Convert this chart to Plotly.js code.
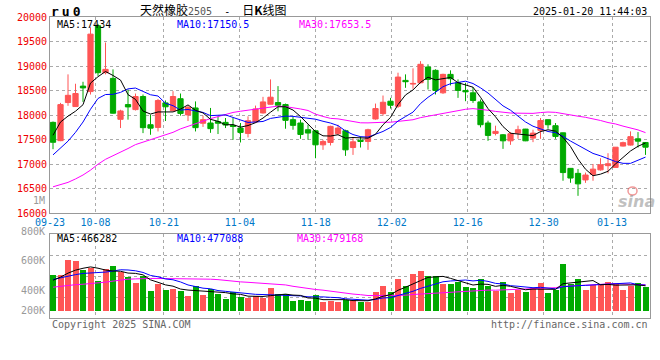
<!DOCTYPE html>
<html><head><meta charset="utf-8">
<script src="https://cdn.plot.ly/plotly-3.0.1.min.js"></script>
<style>html,body{margin:0;padding:0;background:#fff}#chart{width:660px;height:360px}</style>
</head><body><div id="chart"></div>
<script>
// ---- data (ru0, daily K, 2024-09-23 .. 2025-01-20) ----
const openP = [17853,17480,18257,18175,18592,18480,19822,18865,18749,17915,
  18216,18113,18380,17805,17750,18250,18090,18335,18005,18147,
  17835,17840,17870,17853,17792,17737,17628,17860,18045,18222,
  18257,18216,17908,17840,17703,17682,17395,17443,17621,17682,
  17340,17491,17464,17922,18031,18284,18182,18708,18633,18660,
  18981,18913,18455,18831,18660,18503,18455,18270,17840,17628,
  17600,17477,17634,17716,17532,17690,17908,17785,17640,16916,
  16814,16680,16794,16885,16971,16935,17370,17390,17518,17443];
const highP = [17870,18250,18831,18640,18680,19790,19860,19480,18933,18110,
  18523,18440,18420,18010,18330,18300,18489,18441,18190,18280,
  17990,18147,17976,17942,17942,17840,17976,18195,18373,18728,
  18592,18236,17976,17908,17805,17703,17498,17785,17805,17703,
  17552,17566,17723,18236,18400,18352,18865,18831,18954,19100,
  19036,18934,18844,18913,18728,18660,18571,18318,17887,17785,
  17614,17655,17785,17720,17703,17942,17910,17839,17645,16920,
  16903,16830,17005,17122,17224,17347,17460,17669,17655,17445];
const lowP = [17307,17470,18190,18168,18270,18420,18800,18831,18031,17737,
  17908,18095,17634,17600,17668,17880,18080,17990,17880,17668,
  17760,17640,17615,17737,17498,17443,17546,17840,18031,18216,
  18079,17723,17703,17518,17498,17122,17293,17382,17600,17170,
  17190,17340,17293,17908,17990,18134,18147,18557,18537,18646,
  18523,18421,18434,18605,18352,18284,18250,17750,17477,17587,
  17313,17395,17518,17470,17450,17518,17723,17518,16663,16622,
  16356,16620,16663,16869,16814,16930,17361,17381,17340,17190];
const closeP = [17447,18215,18404,18441,18555,19651,18865,18933,18040,18085,
  18168,18380,17745,17735,18298,18170,18380,18035,18161,17745,
  17908,17725,17835,17799,17771,17648,17887,18127,18270,18366,
  18202,17894,17792,17607,17635,17395,17464,17771,17737,17293,
  17457,17464,17703,18134,18263,18202,18776,18681,18646,19036,
  18728,18503,18831,18742,18503,18475,18298,17805,17587,17669,
  17477,17621,17703,17477,17634,17890,17805,17566,16830,16718,
  16600,16780,16900,16990,17010,17347,17440,17562,17470,17347];
const volume = [544000,544000,646000,636000,574000,590000,501000,583000,603000,566000,
  529000,490000,534000,434000,483000,442000,447000,436000,400000,470000,
  409000,447000,415000,381000,427000,393000,386000,400000,386000,454000,
  415000,415000,368000,375000,368000,409000,364000,371000,364000,377000,
  377000,364000,364000,427000,468000,427000,514000,468000,549000,569000,
  535000,535000,483000,481000,499000,461000,454000,515000,472000,432000,
  495000,420000,445000,427000,454000,488000,420000,444000,617000,481000,
  515000,442000,474000,474000,495000,489000,442000,470000,488000,463000];
// moving-average values at the start of the window (they depend on earlier days)
const ma5Head  = [17590,17860,17980,18080];
const ma10Head = [17190,17330,17470,17650,17860,18120,18340,18420,18425];
const ma30Head = [16540,16580,16630,16700,16780,16880,17000,17100,17170,17240,17320,17400,17450,17490,
  17550,17590,17650,17720,17775,17830,17885,17930,17970,18020,18055,18080,18100,18120,18145];
const vma5Head  = [508000,529000,556000,576000];
const vma10Head = [513000,525000,536000,546000,554000,556000,558000,563000,570000];
const vma30Head = [461000,468000,473000,478000,481000,485000,488000,495000,502000,510000,515000,517000,520000,
  520000,520000,520000,520000,520000,520000,520000,519000,515000,512000,506000,500000,497000,494000,491000,488000];
const tickIdx = [0,6,15,25,35,45,55,65,74];
const tickText = ['09-23','10-08','10-21','11-04','11-18','12-02','12-16','12-30','01-13'];
const priceTicks = [16000,16500,17000,17500,18000,18500,19000,19500,20000];
const volLabels = ['800K','600K','400K','200K'];
const legendPrice = ['MA5:17434','MA10:17150.5','MA30:17653.5'];
const legendVol = ['MA5:466282','MA10:477088','MA30:479168'];

// ---- helpers ----
function movAvg(arr, n, head){
  return arr.map((_, i) => {
    if (i < n - 1) return head[i];
    let s = 0; for (let j = i - n + 1; j <= i; j++) s += arr[j];
    return s / n;
  });
}
const N = closeP.length;
const idx = closeP.map((_, i) => i);
const RED = '#ff5555', GREEN = '#00aa00';
const up = closeP.map((c, i) => c >= openP[i]);
const VOL_BASE = 300000;
const volRange = [252900, 818300];
const L = 50, R = 650, T = 17, B = 318;
const fx = px => (px - L) / (R - L);
const fy = py => (B - py) / (B - T);
const MONO = 'DejaVu Sans Mono';
function ann(text, px, py, xa, color, size, extra){
  return Object.assign({text: text, x: fx(px), y: fy(py), xref: 'paper', yref: 'paper',
    xanchor: xa, yanchor: 'middle', showarrow: false,
    font: {family: MONO, size: size || 10, color: color}}, extra || {});
}

const traces = [
  {type: 'candlestick', x: idx, open: openP, high: highP, low: lowP, close: closeP,
   increasing: {line: {color: RED, width: 1}, fillcolor: RED},
   decreasing: {line: {color: GREEN, width: 1}, fillcolor: GREEN},
   whiskerwidth: 0, hoverinfo: 'none', xaxis: 'x', yaxis: 'y'},
  {type: 'scatter', mode: 'lines', x: idx, y: movAvg(closeP, 30, ma30Head), line: {color: '#ff00ff', width: 1}, xaxis: 'x', yaxis: 'y', hoverinfo: 'none'},
  {type: 'scatter', mode: 'lines', x: idx, y: movAvg(closeP, 10, ma10Head), line: {color: '#0000ff', width: 1}, xaxis: 'x', yaxis: 'y', hoverinfo: 'none'},
  {type: 'scatter', mode: 'lines', x: idx, y: movAvg(closeP, 5, ma5Head), line: {color: '#000000', width: 1}, xaxis: 'x', yaxis: 'y', hoverinfo: 'none'},
  {type: 'bar', x: idx, y: volume.map(v => v - VOL_BASE), base: VOL_BASE, width: 0.8,
   marker: {color: up.map(u => u ? RED : GREEN), line: {width: 0}}, xaxis: 'x2', yaxis: 'y2', hoverinfo: 'none'},
  {type: 'scatter', mode: 'lines', x: idx, y: movAvg(volume, 30, vma30Head), line: {color: '#ff00ff', width: 1}, xaxis: 'x2', yaxis: 'y2', hoverinfo: 'none'},
  {type: 'scatter', mode: 'lines', x: idx, y: movAvg(volume, 10, vma10Head), line: {color: '#0000ff', width: 1}, xaxis: 'x2', yaxis: 'y2', hoverinfo: 'none'},
  {type: 'scatter', mode: 'lines', x: idx, y: movAvg(volume, 5, vma5Head), line: {color: '#000000', width: 1}, xaxis: 'x2', yaxis: 'y2', hoverinfo: 'none'}
];

const tickVals = tickIdx.map(i => -0.4 + i * N / (N - 1));
const gridCommon = {showgrid: true, gridcolor: '#aaaaaa', griddash: 'dot', gridwidth: 1,
  showline: true, linecolor: '#999999', linewidth: 1, mirror: true, zeroline: false, ticks: '', fixedrange: true};
const volQuarter = [0.25, 0.5, 0.75].map(f => volRange[0] + f * (volRange[1] - volRange[0]));

const annotations = [
  ann('<span style="letter-spacing:3px">ru0</span>', 49, 11, 'left', '#000', 13, {font: {family: MONO, size: 13, color: '#000', weight: 'bold'}}),
  ann('天然橡胶<span style="font-family:DejaVu Sans Mono;font-size:10px;color:#555">2505</span><span style="font-family:DejaVu Sans Mono;font-size:10px">  -  </span>日<b>K</b>线图', 213, 10, 'center', '#000', 12,
      {font: {family: 'Noto Sans CJK SC', size: 12, color: '#000'}}),
  ann('2025-01-20 11:44:03', 649, 11.5, 'right', '#000', 10),
  ann(legendPrice[0], 55, 24, 'left', '#000'),
  ann(legendPrice[1], 175, 24, 'left', '#0000ff'),
  ann(legendPrice[2], 296.5, 24, 'left', '#ff00ff'),
  ann(legendVol[0], 54.5, 238.5, 'left', '#000'),
  ann(legendVol[1], 174.5, 238.5, 'left', '#0000ff'),
  ann(legendVol[2], 295, 238.5, 'left', '#ff00ff'),
  ann(volLabels[0], 46.5, 231, 'right', '#999'),
  ann(volLabels[1], 46.5, 260.7, 'right', '#999'),
  ann(volLabels[2], 46.5, 290, 'right', '#999'),
  ann(volLabels[3], 46.5, 310, 'right', '#999'),
  ann('1M', 46.5, 200.5, 'right', '#999'),
  ann('Copyright 2025 SINA.COM', 49.5, 324, 'left', '#666'),
  ann('http://finance.sina.com.cn', 649.5, 324, 'right', '#666'),
  ann('sina', 636, 201, 'center', 'rgba(130,130,130,0.5)', 16,
      {font: {family: 'DejaVu Sans', size: 16, color: 'rgba(130,130,130,0.5)', weight: 'bold', style: 'italic'}})
];

const layout = {
  width: 660, height: 360,
  margin: {l: L, r: 660 - R, t: T, b: 360 - B, pad: 0},
  paper_bgcolor: '#ffffff', plot_bgcolor: '#ffffff',
  showlegend: false, hovermode: false, dragmode: false,
  boxgap: 0.3, boxgroupgap: 0,
  bargap: 0,
  xaxis: Object.assign({}, gridCommon, {domain: [0, 1], anchor: 'y', range: [-0.4, N - 0.4],
    tickmode: 'array', tickvals: tickVals, ticktext: tickText,
    tickfont: {family: MONO, size: 10, color: '#0078c8'}, rangeslider: {visible: false}}),
  yaxis: Object.assign({}, gridCommon, {domain: [fy(213.3), 1], anchor: 'x', range: [16000, 20000],
    tickmode: 'array', tickvals: priceTicks, ticktext: priceTicks.map(String),
    tickfont: {family: MONO, size: 10, color: '#ee0000'}}),
  xaxis2: Object.assign({}, gridCommon, {domain: [0, 1], anchor: 'y2', matches: 'x', range: [-0.4, N - 0.4],
    tickmode: 'array', tickvals: tickVals, showticklabels: false, rangeslider: {visible: false}}),
  yaxis2: Object.assign({}, gridCommon, {domain: [0, fy(234.3)], anchor: 'x2', range: volRange,
    tickmode: 'array', tickvals: volQuarter, showticklabels: false}),
  annotations: annotations,
  shapes: [
    {type: 'circle', xref: 'paper', yref: 'paper', x0: fx(628), x1: fx(637), y0: fy(195), y1: fy(187),
     line: {color: 'rgba(230,70,70,0.55)', width: 1.5}}
  ]
};

Plotly.newPlot('chart', traces, layout, {staticPlot: true, displayModeBar: false});
</script>
</body></html>
